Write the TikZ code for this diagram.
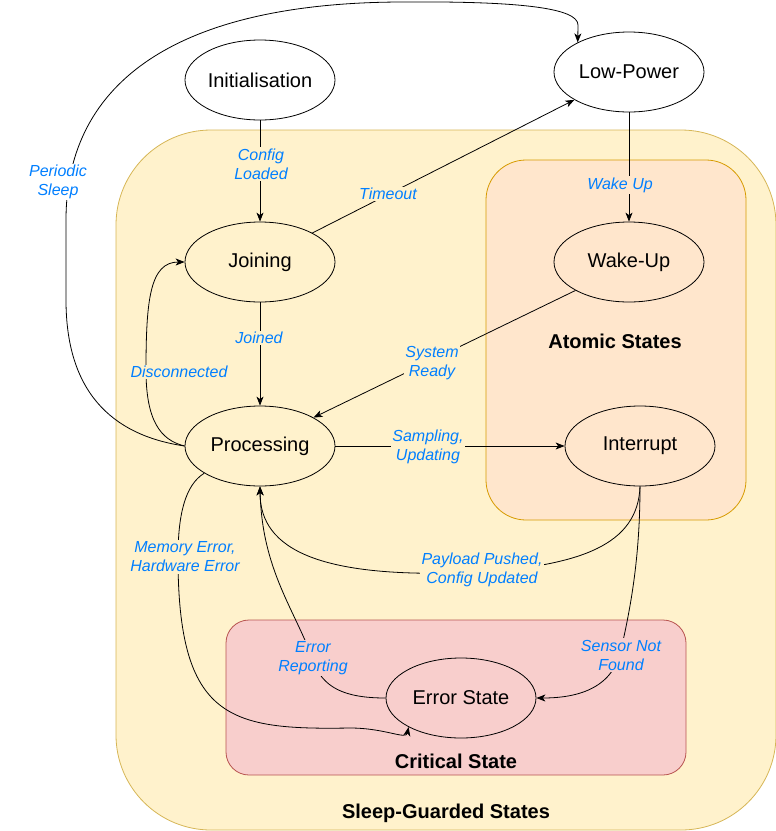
\documentclass[tikz,border=0pt]{standalone}
\usepackage{fontspec}
\setmainfont{Liberation Sans}
\usetikzlibrary{shapes.geometric,arrows.meta}
\definecolor{yelfill}{HTML}{FFF2CC}
\definecolor{yelline}{HTML}{D6B656}
\definecolor{orfill}{HTML}{FFE6CC}
\definecolor{orline}{HTML}{D79B00}
\definecolor{redfill}{HTML}{F8CECC}
\definecolor{redline}{HTML}{B85450}
\definecolor{lblue}{HTML}{007FFF}
\tikzset{
  st/.style={ellipse,draw=black,line width=0.8pt,minimum width=150pt,minimum height=80pt,inner sep=0pt,font=\fontsize{20}{24}\selectfont},
  lbl/.style={font=\itshape\fontsize{16}{19}\selectfont,text=lblue,align=center,inner sep=1.5pt},
  ttl/.style={font=\bfseries\fontsize{20}{24}\selectfont,inner sep=0pt},
  arr/.style={line width=0.8pt,-{Stealth[length=9pt,width=7pt,inset=2.5pt]}},
  ln/.style={line width=0.8pt}
}
\begin{document}
\begin{tikzpicture}[x=1pt,y=-1pt]
\useasboundingbox (0,0) rectangle (776,831);
% containers
\draw[yelline,fill=yelfill,line width=0.8pt,rounded corners=95pt] (116,130) rectangle (776,830);
\draw[orline,fill=orfill,line width=0.8pt,rounded corners=40pt] (486,160) rectangle (746,520);
\draw[redline,fill=redfill,line width=0.8pt,rounded corners=23pt] (226,620) rectangle (686,775);
\node[ttl] (tatomic) at (615,341) {Atomic States};
\node[ttl] (tcrit) at (456,761) {Critical State};
\node[ttl] (tsleep) at (446,813) {Sleep-Guarded States};
% states
\node[st] (init) at (260,80) {Initialisation};
\node[st] (lp) at (629,72) {Low-Power};
\node[st] (join) at (260,262) {Joining};
\node[st] (wake) at (629,262) {Wake-Up};
\node[st] (proc) at (260,446) {Processing};
\node[st] (intr) at (640,446) {Interrupt};
\node[st] (err) at (461,698) {Error State};
% edges
\draw[arr] (init.south) -- (join.north);
\draw[arr] (join.29) -- (lp.207);
\draw[arr] (lp.south) -- (wake.north);
\draw[arr] (join.south) -- (proc.north);
\draw[arr] (wake.208) -- (proc.28);
\draw[arr] (proc.east) -- (intr.west);
\draw[arr] (proc.west) .. controls (160,440) and (146,420) .. (146,370) .. controls (146,300) and (150,262) .. (join.west);
\draw[arr] (proc.west) .. controls (110,435) and (66,390) .. (66,300) -- (66,220) .. controls (66,80) and (180,3) .. (400,2) .. controls (520,1) and (578,8) .. (578,25) -- (lp.150);
\draw[arr] (intr.south) .. controls (638,545) and (580,565) .. (482,572) .. controls (320,580) and (260,550) .. (proc.south);
\draw[arr] (intr.south) .. controls (640,560) and (630,610) .. (621,650) .. controls (612,690) and (575,698) .. (err.east);
\draw[arr] (err.west) .. controls (345,698) and (322,688) .. (313,660) .. controls (295,610) and (262,570) .. (proc.south);
\draw[arr] (proc.206) .. controls (185,485) and (178,515) .. (178,557) .. controls (178,720) and (230,730) .. (350,728) .. controls (385,728) and (406,740) .. (err.209);
% labels
\node[lbl,fill=white] (lps) at (58,182) {Periodic\\Sleep};
\node[lbl,fill=yelfill] (lcfg) at (261,164) {Config\\Loaded};
\node[lbl,fill=yelfill] (lto) at (388,194) {Timeout};
\node[lbl,fill=orfill] (lwu) at (620,185) {Wake Up};
\node[lbl,fill=yelfill] (ljn) at (259,338) {Joined};
\node[lbl,fill=yelfill] (ldc) at (179,372) {Disconnected};
\node[lbl,fill=yelfill] (lsr) at (432,363) {System\\Ready};
\node[lbl,fill=yelfill] (lsu) at (428,447) {Sampling,\\Updating};
\node[lbl,fill=yelfill] (lme) at (185,557) {Memory Error,\\Hardware Error};
\node[lbl,fill=yelfill] (lpp) at (482,570) {Payload Pushed,\\Config Updated};
\node[lbl,fill=redfill] (ler) at (313,658) {Error\\Reporting};
\node[lbl,fill=redfill] (lsn) at (621,655) {Sensor Not\\Found};
\end{tikzpicture}
\end{document}
